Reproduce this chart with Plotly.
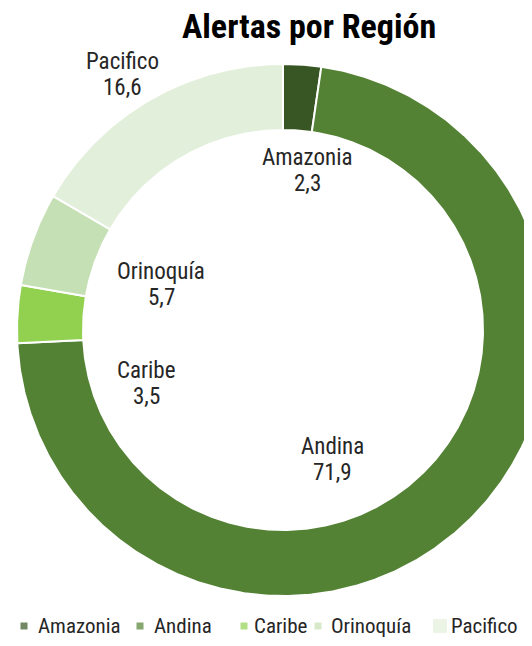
import numpy as np
import plotly.graph_objects as go

# ---- data ----
regions = ["Amazonia", "Andina", "Caribe", "Orinoquía", "Pacifico"]
values = [2.3, 71.9, 3.5, 5.7, 16.6]
colors = ["#375623", "#548235", "#92D050", "#C5E0B4", "#E2EFDA"]
title_text = "Alertas por Región"

# ---- layout (pixel space of the 532x646 window; page body has an 8px margin) ----
VW, VH = 532, 646
OFF = 8
W, H = VW - 2 * OFF, VH - 2 * OFF   # visible area inside the body margins
FONT = "Roboto Condensed, Liberation Sans, Arial, sans-serif"
TXT = "#262626"
cx, cy = 283, 330          # donut centre
R_OUT, R_IN = 266, 200     # ring radii

# label placement: (x centre, y of name line, y of value line)
label_pos = {
    "Amazonia": (307, 157, 183),
    "Andina": (332, 446, 472),
    "Caribe": (146, 370, 396),
    "Orinoquía": (161, 271, 297),
    "Pacifico": (122, 61, 87),
}
# legend placement: (marker x, text x start, marker size)
legend_pos = {
    "Amazonia": (24, 36, 7),
    "Andina": (140, 152, 7),
    "Caribe": (244, 252, 7),
    "Orinoquía": (318, 329, 7),
    "Pacifico": (440, 449, 14),
}
LEG_Y = 626

fig = go.Figure()

# donut slices, clockwise from 12 o'clock, angles derived from the values
total = sum(values)
cum = np.concatenate([[0.0], np.cumsum(values)]) / total * 2 * np.pi
for name, val, color, a0, a1 in zip(regions, values, colors, cum[:-1], cum[1:]):
    t = np.linspace(a0, a1, max(int((a1 - a0) / (2 * np.pi) * 720), 8))
    xs = np.concatenate([cx + R_OUT * np.sin(t), cx + R_IN * np.sin(t[::-1])])
    ys = np.concatenate([cy - R_OUT * np.cos(t), cy - R_IN * np.cos(t[::-1])])
    fig.add_trace(go.Scatter(
        x=np.append(xs, xs[0]), y=np.append(ys, ys[0]),
        mode="lines", fill="toself", fillcolor=color,
        line=dict(color="white", width=2),
        name=name, showlegend=False, hoveron="fills",
        hoverinfo="text", text=f"{name}: {val}",
    ))

# legend markers
fig.add_trace(go.Scatter(
    x=[legend_pos[n][0] for n in regions], y=[LEG_Y] * len(regions),
    mode="markers", showlegend=False, hoverinfo="skip",
    marker=dict(symbol="square", color=colors, size=[legend_pos[n][2] for n in regions], line=dict(width=0)),
))

annotations = []
for name, val in zip(regions, values):
    x, y1, y2 = label_pos[name]
    annotations.append(dict(x=x, y=y1, xref="x", yref="y", text=name, showarrow=False,
                            xanchor="center", yanchor="middle",
                            font=dict(family=FONT, size=23, color=TXT)))
    annotations.append(dict(x=x, y=y2, xref="x", yref="y", text=str(val).replace(".", ","),
                            showarrow=False, xanchor="center", yanchor="middle",
                            font=dict(family=FONT, size=23, color=TXT)))
    mx, tx, _ = legend_pos[name]
    annotations.append(dict(x=tx, y=LEG_Y, xref="x", yref="y", text=name, showarrow=False,
                            xanchor="left", yanchor="middle",
                            font=dict(family=FONT, size=21, color=TXT)))

annotations.append(dict(x=309, y=26, xref="x", yref="y", text=f"<b>{title_text}</b>", showarrow=False,
                        xanchor="center", yanchor="middle",
                        font=dict(family=FONT, size=34, color="#000000")))

fig.update_layout(
    width=W, height=H,
    margin=dict(l=0, r=0, t=0, b=0),
    paper_bgcolor="white", plot_bgcolor="white",
    xaxis=dict(range=[OFF, OFF + W], visible=False, fixedrange=True),
    yaxis=dict(range=[OFF + H, OFF], visible=False, fixedrange=True),
    showlegend=False,
    annotations=annotations,
)

fig.write_html("out.html")
